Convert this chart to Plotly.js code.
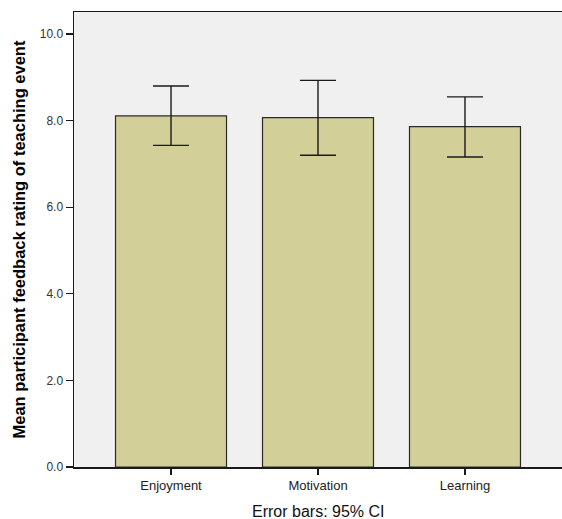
<!DOCTYPE html>
<html>
<head>
<meta charset="utf-8">
<script src="https://cdn.plot.ly/plotly-3.0.1.min.js"></script>
<style>
  html, body { margin: 0; padding: 0; background: #ffffff; }
  #chart { width: 562px; height: 519px; }
</style>
</head>
<body>
<div id="chart"></div>
<script>
// Feedback categories and mean ratings with 95% confidence limits
const categories = ["Enjoyment", "Motivation", "Learning"];
const meanRating = [8.11, 8.07, 7.86];
const ciUpper = [8.80, 8.93, 8.55];
const ciLower = [7.43, 7.20, 7.16];
const yTickValues = [0, 2, 4, 6, 8, 10];

const errPlus = meanRating.map((m, i) => ciUpper[i] - m);
const errMinus = meanRating.map((m, i) => m - ciLower[i]);

const trace = {
  type: "bar",
  x: categories,
  y: meanRating,
  width: 0.755,
  marker: {
    color: "#d3cf98",
    line: { color: "#2a2a2a", width: 1.2 }
  },
  error_y: {
    type: "data",
    symmetric: false,
    array: errPlus,
    arrayminus: errMinus,
    color: "#1a1a1a",
    thickness: 1.4,
    width: 18
  },
  hoverinfo: "skip"
};

const layout = {
  width: 562,
  height: 519,
  margin: { l: 74, r: 0, t: 12, b: 52 },
  paper_bgcolor: "#ffffff",
  plot_bgcolor: "#f0f0f0",
  showlegend: false,
  font: { family: "Arial, 'Liberation Sans', sans-serif", color: "#333333" },
  xaxis: {
    range: [-0.66, 2.66],
    showline: true,
    linecolor: "#1a1a1a",
    linewidth: 1.5,
    mirror: true,
    ticks: "outside",
    ticklen: 6,
    tickcolor: "#1a1a1a",
    tickwidth: 1.2,
    tickfont: { size: 13, color: "#222222" },
    showgrid: false,
    zeroline: false,
    fixedrange: true
  },
  yaxis: {
    range: [0, 10.51],
    tickvals: yTickValues,
    tickformat: ".1f",
    showline: true,
    linecolor: "#1a1a1a",
    linewidth: 1.5,
    ticks: "outside",
    ticklen: 7,
    tickcolor: "#1a1a1a",
    tickwidth: 1.2,
    tickfont: { size: 12, color: "#333333" },
    showgrid: false,
    zeroline: false,
    fixedrange: true
  },
  annotations: [
    {
      text: "<b>Mean participant feedback rating of teaching event</b>",
      xref: "paper", yref: "paper",
      x: 0, y: 0.5,
      xshift: -56,
      xanchor: "center", yanchor: "middle",
      textangle: -90,
      showarrow: false,
      font: { size: 16.5, color: "#000000" }
    },
    {
      text: "Error bars: 95% CI",
      xref: "paper", yref: "paper",
      x: 0.5, y: 0,
      yshift: -44,
      xanchor: "center", yanchor: "middle",
      showarrow: false,
      font: { size: 16, color: "#111111" }
    }
  ]
};

Plotly.newPlot("chart", [trace], layout, { displayModeBar: false, staticPlot: true });
</script>
</body>
</html>
